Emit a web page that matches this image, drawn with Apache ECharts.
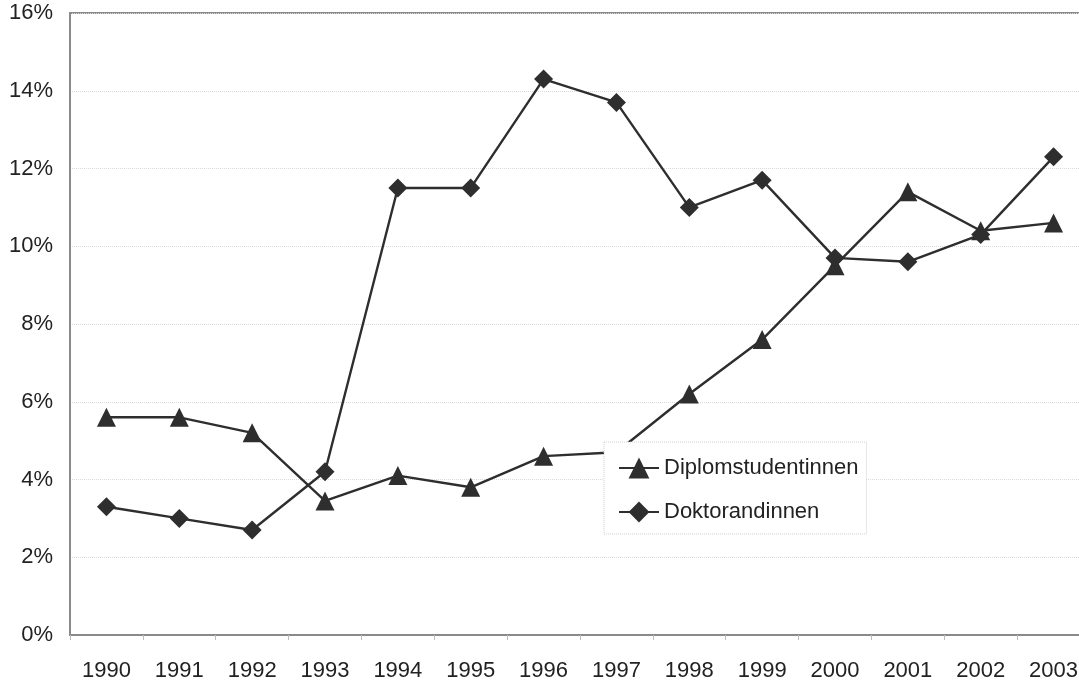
<!DOCTYPE html>
<html>
<head>
<meta charset="utf-8">
<script src="https://cdn.jsdelivr.net/npm/echarts@6/dist/echarts.min.js"></script>
<style>
    html, body { margin: 0; padding: 0; background: #fff; overflow: hidden; }
    /* the plot runs past the right edge in the original, so the chart is a bit wider than the window */
    #chart { width: 1090px; height: 683px; }
</style>
</head>
<body>
<div id="chart"></div>
<script>
    // Jahre und Anteile in Prozent
    var years = ['1990', '1991', '1992', '1993', '1994', '1995', '1996',
                 '1997', '1998', '1999', '2000', '2001', '2002', '2003'];
    var diplom = [5.6, 5.6, 5.2, 3.45, 4.1, 3.8, 4.6, 4.7, 6.2, 7.6, 9.5, 11.4, 10.4, 10.6];
    var doktor = [3.3, 3.0, 2.7, 4.2, 11.5, 11.5, 14.3, 13.7, 11.0, 11.7, 9.7, 9.6, 10.3, 12.3];
    var seriesNames = ['Diplomstudentinnen', 'Doktorandinnen'];

    var myChart = echarts.init(document.getElementById('chart'));

    var option = {
      animation: false,
      backgroundColor: '#fff',
      textStyle: { fontFamily: 'Liberation Sans, Arial, sans-serif' },
      grid: {
        left: 70,
        top: 13,
        right: 0,
        bottom: 48,
        show: true,
        borderColor: '#8a8a8a',
        borderWidth: 2
      },
      legend: {
        orient: 'vertical',
        left: 604,
        top: 442,
        padding: [13, 8, 9, 14],
        itemGap: 18,
        itemWidth: 40,
        itemHeight: 26,
        backgroundColor: '#fff',
        borderColor: '#cfcfcf',
        borderWidth: 1,
        borderType: 'dotted',
        textStyle: { fontSize: 22, lineHeight: 26, color: '#222' },
        data: seriesNames
      },
      xAxis: {
        type: 'category',
        data: years,
        boundaryGap: true,
        axisLine: { lineStyle: { color: '#8a8a8a', width: 2 } },
        axisTick: { show: true, length: 5, lineStyle: { color: '#bbb' } },
        axisLabel: { fontSize: 22, color: '#222', margin: 25 }
      },
      yAxis: {
        type: 'value',
        min: 0,
        max: 16,
        interval: 2,
        axisLine: { show: true, lineStyle: { color: '#8a8a8a', width: 2 } },
        axisTick: { show: false },
        axisLabel: { fontSize: 22, color: '#222', margin: 17, formatter: '{value}%' },
        splitLine: { show: true, lineStyle: { color: '#dadada', type: 'dotted' } }
      },
      series: [
        {
          name: seriesNames[0],
          type: 'line',
          data: diplom,
          symbol: 'triangle',
          symbolSize: 19,
          lineStyle: { color: '#2e2e2e', width: 2.4 },
          itemStyle: { color: '#2e2e2e' }
        },
        {
          name: seriesNames[1],
          type: 'line',
          data: doktor,
          symbol: 'diamond',
          symbolSize: 19,
          lineStyle: { color: '#2e2e2e', width: 2.4 },
          itemStyle: { color: '#2e2e2e' }
        }
      ]
    };

    myChart.setOption(option);
</script>
</body>
</html>
